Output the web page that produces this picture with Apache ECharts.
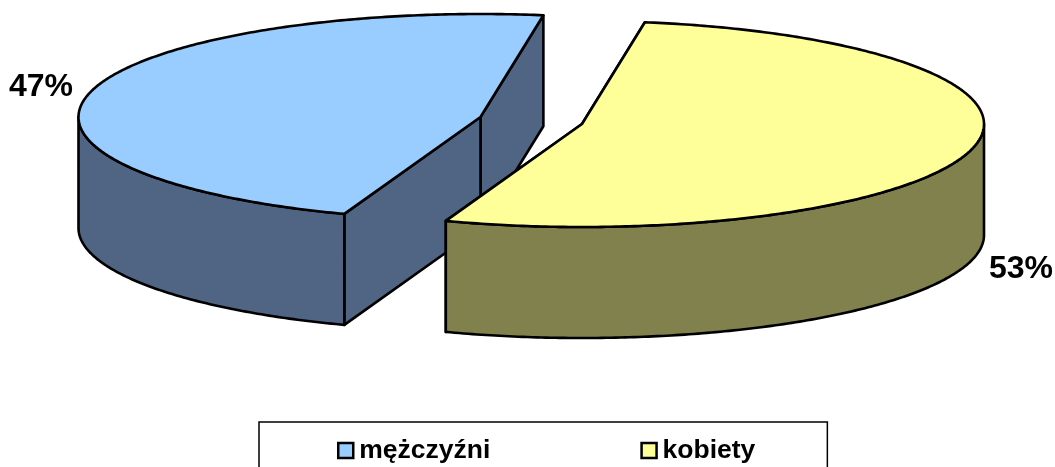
<!DOCTYPE html>
<html>
<head>
<meta charset="utf-8">
<style>html,body{margin:0;padding:0;background:#fff;overflow:hidden}#c{width:1055px;height:467px}</style>
<script src="https://cdn.jsdelivr.net/npm/echarts@6/dist/echarts.min.js"></script>
</head>
<body>
<div id="c"></div>
<script>
const categories = ['mężczyźni', 'kobiety'];
const values = [47, 53];
const topColors = ['#99CCFF', '#FFFF99'];
const sideColors = ['#4F6583', '#81814E'];
const centers = [[480.5, 117], [582, 124]];
const labelCenters = [[41, 87], [1021, 269]];

const RX = 402, RY = 103, DEPTH = 111, START = 81;
const total = values.reduce((a, b) => a + b, 0);
const FONT = '"Liberation Sans", Arial, sans-serif';

function pt(c, a, d) {
  const r = a * Math.PI / 180;
  return [c[0] + RX * Math.cos(r), c[1] - RY * Math.sin(r) + (d || 0)];
}
function arc(c, a0, a1, d) {
  const n = Math.max(2, Math.ceil(Math.abs(a1 - a0) * 1.5));
  const out = [];
  for (let i = 0; i <= n; i++) out.push(pt(c, a0 + (a1 - a0) * i / n, d));
  return out;
}
function render(idx, dir) {
  return function (params, api) {
    const v = api.value(0);
    const sweep = v / total * 360 * dir;
    const c = centers[idx];
    const a0 = START, a1 = START + sweep;
    const lineStyle = { stroke: '#000', lineWidth: 2.6, lineJoin: 'round' };
    const poly = (points, fill) => ({
      type: 'polygon', shape: { points },
      style: Object.assign({ fill }, lineStyle)
    });
    const face = a => {
      const p = pt(c, a);
      return poly([c, p, [p[0], p[1] + DEPTH], [c[0], c[1] + DEPTH]], sideColors[idx]);
    };
    // the part of the rim that faces the viewer: lower half of the ellipse
    const lo = Math.min(a0, a1), hi = Math.max(a0, a1);
    const wallFrom = dir > 0 ? Math.max(lo, 180) : Math.max(lo, -180);
    const wallTo = dir > 0 ? Math.min(hi, 360) : Math.min(hi, 0);
    const wallTop = arc(c, wallFrom, wallTo, 0);
    const wallBottom = arc(c, wallTo, wallFrom, DEPTH);
    return {
      type: 'group',
      children: [
        face(a0),
        face(a1),
        poly(wallTop.concat(wallBottom), sideColors[idx]),
        poly([c].concat(arc(c, a0, a1, 0)), topColors[idx]),
        {
          type: 'text',
          style: {
            x: labelCenters[idx][0], y: labelCenters[idx][1],
            text: Math.round(v / total * 100) + '%',
            fill: '#000', font: 'bold 32px ' + FONT,
            align: 'center', verticalAlign: 'middle'
          }
        }
      ]
    };
  };
}

const chart = echarts.init(document.getElementById('c'), null, { renderer: 'canvas' });
chart.setOption({
  animation: false,
  legend: {
    data: categories,
    left: 259,
    top: 422,
    orient: 'horizontal',
    icon: 'rect',
    itemWidth: 15,
    itemHeight: 15,
    itemGap: 150,
    padding: [15, 72, 30, 78],
    borderColor: '#000',
    borderWidth: 1.5,
    backgroundColor: '#fff',
    selectedMode: false,
    itemStyle: { borderColor: '#000', borderWidth: 2.5 },
    textStyle: { color: '#000', fontFamily: FONT, fontWeight: 'bold', fontSize: 26.5, padding: [0, 0, 0, 1] }
  },
  series: categories.map((name, i) => ({
    type: 'custom',
    name,
    coordinateSystem: 'none',
    silent: true,
    itemStyle: { color: topColors[i] },
    renderItem: render(i, i === 0 ? 1 : -1),
    data: [[values[i]]],
    z: i + 1
  }))
});
</script>
</body>
</html>
